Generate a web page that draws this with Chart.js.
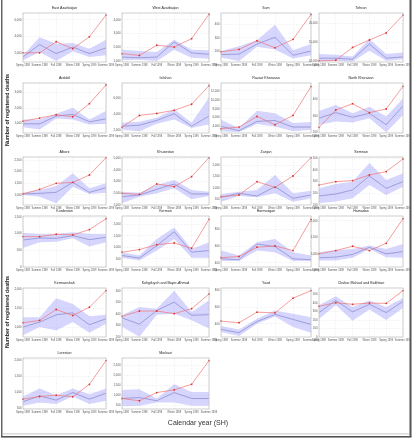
<!DOCTYPE html>
<html>
<head>
<meta charset="utf-8">
<script src="https://cdn.jsdelivr.net/npm/chart.js@4.4.0/dist/chart.umd.min.js"></script>
<style>
html, body { margin: 0; padding: 0; background: #fff; }
#wrap { position: relative; width: 415px; height: 440px; overflow: hidden; }
#wrap canvas { position: absolute; }
</style>
</head>
<body>
<div id="wrap"><canvas id="bg" width="415" height="440" style="left:0;top:0"></canvas></div>
<script>
const seasons = ['Spring 1398', 'Summer 1398', 'Fall 1398', 'Winter 1398', 'Spring 1399', 'Summer 1399'];

const provinces = [
    'East Azarbaijan', 'West Azarbaijan', 'Ilam', 'Tehran',
    'Ardabil', 'Isfahan', 'Razavi Khorasan', 'North Khorasan',
    'Alborz', 'Khuzestan', 'Zanjan', 'Semnan',
    'Kurdestan', 'Kerman', 'Hormozgan', 'Hamadan',
    'Kermanshah', 'Kohgiluyeh and Boyer-Ahmad', 'Yazd', 'Chahar Mahaal and Bakhtiari',
    'Lorestan', 'Markazi'
];

// registered deaths (red)
const observed = [
    [2000, 2000, 3350, 2500, 3950, 6600],
    [1540, 1410, 2150, 2020, 2630, 4410],
    [199, 216, 279, 228, 289, 470],
    [10000, 10180, 13570, 15540, 17410, 22140],
    [1150, 1350, 1565, 1435, 2280, 3480],
    [2380, 3850, 4100, 4480, 5235, 7550],
    [3510, 3880, 6270, 4400, 6490, 12985],
    [230, 335, 373, 319, 341, 478],
    [1043, 1243, 1500, 1543, 1857, 2600],
    [2000, 1914, 2800, 2571, 3429, 5057],
    [618, 691, 1279, 1029, 1529, 2338],
    [271, 300, 309, 357, 386, 494],
    [911, 911, 982, 962, 1123, 1447],
    [786, 900, 1114, 1186, 957, 2214],
    [461, 476, 587, 602, 547, 921],
    [1000, 1100, 1230, 1100, 1320, 2070],
    [1113, 1174, 1461, 1304, 1522, 1957],
    [380, 426, 426, 403, 446, 574],
    [433, 414, 539, 531, 704, 794],
    [362, 404, 385, 400, 396, 546],
    [786, 867, 908, 857, 1245, 1980],
    [833, 717, 1133, 1267, 1550, 2750]
];

// expected deaths (blue line)
const predicted = [
    [1500, 3000, 1900, 2700, 1900, 2600],
    [1290, 1240, 1290, 2390, 1590, 1490],
    [179, 182, 255, 304, 174, 204],
    [10710, 10710, 10450, 14460, 10710, 11070],
    [980, 980, 1480, 1590, 1110, 1300],
    [2500, 2630, 3220, 4060, 2500, 3765],
    [4030, 3060, 5150, 5370, 3880, 3880],
    [285, 319, 291, 315, 246, 359],
    [1043, 1071, 1114, 1543, 1114, 1314],
    [1714, 1857, 2343, 2800, 1943, 1943],
    [588, 765, 647, 1059, 544, 691],
    [177, 194, 229, 349, 243, 300],
    [810, 870, 860, 941, 820, 891],
    [643, 529, 1071, 1671, 786, 857],
    [449, 437, 626, 594, 449, 437],
    [880, 900, 980, 1200, 1000, 1070],
    [1000, 1130, 1322, 1374, 1061, 1217],
    [366, 311, 431, 503, 389, 394],
    [335, 296, 429, 512, 453, 394],
    [288, 431, 296, 385, 288, 419],
    [704, 888, 755, 990, 786, 969],
    [833, 883, 717, 1133, 833, 833]
];

const lowerBound = [
    [1100, 2100, 1000, 2200, 1500, 1700],
    [1050, 1100, 1000, 1830, 1240, 1170],
    [157, 133, 235, 216, 150, 174],
    [9820, 10000, 9820, 12680, 10000, 10450],
    [760, 610, 1330, 1260, 935, 980],
    [2085, 1875, 2800, 3345, 2295, 2715],
    [2910, 2760, 4550, 4030, 2910, 3280],
    [246, 265, 260, 285, 200, 305],
    [1000, 929, 643, 1357, 1043, 1100],
    [1143, 1714, 2000, 2429, 1486, 1771],
    [397, 647, 588, 765, 397, 544],
    [114, 129, 157, 271, 186, 257],
    [567, 739, 759, 860, 617, 739],
    [543, 429, 857, 1357, 543, 543],
    [421, 421, 547, 528, 421, 421],
    [800, 800, 880, 1150, 900, 880],
    [783, 1000, 913, 1130, 852, 1087],
    [289, 203, 394, 403, 346, 274],
    [304, 257, 402, 488, 363, 296],
    [212, 373, 192, 323, 200, 342],
    [582, 684, 633, 867, 633, 735],
    [433, 467, 633, 633, 467, 467]
];

const upperBound = [
    [1700, 3900, 3100, 3200, 2500, 3600],
    [1830, 1730, 1660, 2560, 1830, 1780],
    [205, 240, 282, 394, 210, 255],
    [11790, 11610, 11160, 15800, 11790, 12230],
    [1260, 1260, 1630, 2020, 1260, 1800],
    [2920, 3050, 3555, 4605, 2920, 6075],
    [5520, 3660, 7540, 7015, 4780, 5000],
    [329, 365, 315, 355, 295, 404],
    [1100, 1214, 1386, 1929, 1286, 1500],
    [2143, 2057, 2714, 3143, 2286, 2143],
    [735, 838, 912, 1574, 765, 882],
    [243, 280, 300, 460, 314, 371],
    [1022, 992, 992, 1043, 992, 992],
    [786, 643, 1357, 1857, 929, 1214],
    [547, 488, 646, 685, 528, 488],
    [1050, 1120, 1150, 1250, 1150, 1300],
    [1261, 1261, 1757, 1609, 1287, 1322],
    [389, 460, 446, 603, 417, 517],
    [375, 335, 461, 559, 520, 480],
    [373, 481, 354, 431, 354, 458],
    [867, 1112, 908, 1112, 939, 1112],
    [1267, 1300, 833, 1550, 1167, 1167]
];

const yMin = [880, 930, 125, 9700, 390, 1660, 2540, 196, 571, 1000, 250, 100,
              0, 143, 350, 600, 739, 200, 245, 0, 480, 300];
const yMax = [6850, 4500, 480, 22700, 3610, 7880, 13800, 498, 2629, 5114, 2368, 511,
              1530, 2357, 961, 2150, 2026, 626, 825, 577, 2061, 2883];

// panel grid (plot area edges)
const colLeft = [23, 122, 221, 319];
const colRight = [106, 209, 311, 403];
const rowTop = [13, 83, 157, 216, 288, 358];
const rowBottom = [62, 133, 205, 267, 337, 409];

// frame + axis titles
const bg = document.getElementById('bg').getContext('2d');
bg.fillStyle = '#666';
bg.fillRect(1, 0, 1.5, 437);
bg.fillStyle = '#555';
bg.fillRect(409.5, 0, 2, 437);
bg.fillRect(1, 436, 410.5, 1.6);
bg.fillStyle = '#bbb';
bg.fillRect(3, 433.5, 406, 0.8);

bg.fillStyle = '#1a1a1a';
bg.font = 'bold 5.3px "Liberation Sans", Arial, sans-serif';
bg.textAlign = 'center';
bg.textBaseline = 'middle';
[110, 312].forEach(cy => {
    bg.save();
    bg.translate(7.5, cy);
    bg.rotate(-Math.PI / 2);
    bg.fillText('Number of registered deaths', 0, 0);
    bg.restore();
});
bg.font = '7px "Liberation Sans", Arial, sans-serif';
bg.fillStyle = '#333';
bg.fillText('Calendar year (SH)', 198, 423);

const panelFrame = {
    id: 'panelFrame',
    afterDraw(chart, args, opts) {
        const { ctx, chartArea: a } = chart;
        ctx.save();
        ctx.strokeStyle = '#c4c4c4';
        ctx.lineWidth = 0.8;
        ctx.strokeRect(a.left, a.top, a.right - a.left, a.bottom - a.top);
        ctx.fillStyle = '#222';
        ctx.font = '3.6px "Liberation Sans", Arial, sans-serif';
        ctx.textAlign = 'center';
        ctx.textBaseline = 'alphabetic';
        ctx.fillText(opts.text, (a.left + a.right) / 2, a.top - 4.5);
        ctx.restore();
    }
};

const padL = 14, padT = 9, padR = 10, padB = 6;
const wrap = document.getElementById('wrap');

provinces.forEach((name, i) => {
    const col = i % 4, row = Math.floor(i / 4);
    const L = colLeft[col], R = colRight[col], T = rowTop[row], B = rowBottom[row];
    const cv = document.createElement('canvas');
    cv.width = R - L + padL + padR;
    cv.height = B - T + padT + padB;
    cv.style.left = (L - padL) + 'px';
    cv.style.top = (T - padT) + 'px';
    wrap.appendChild(cv);

    new Chart(cv.getContext('2d'), {
        type: 'line',
        data: {
            labels: seasons,
            datasets: [{
                data: lowerBound[i],
                borderWidth: 0,
                pointRadius: 0,
                fill: false,
                order: 3
            }, {
                data: upperBound[i],
                borderWidth: 0,
                pointRadius: 0,
                fill: '-1',
                backgroundColor: 'rgba(125,125,250,0.32)',
                order: 3
            }, {
                data: predicted[i],
                borderColor: 'rgba(125,125,200,0.9)',
                borderWidth: 0.7,
                pointRadius: 0,
                order: 1
            }, {
                data: observed[i],
                borderColor: '#ef7474',
                borderWidth: 0.7,
                pointRadius: 0.9,
                pointBorderWidth: 0,
                pointBackgroundColor: '#e03030',
                order: 0
            }]
        },
        options: {
            responsive: false,
            animation: false,
            events: [],
            layout: { padding: { left: 0, right: padR, top: padT, bottom: 0 } },
            plugins: {
                legend: { display: false },
                tooltip: { enabled: false },
                panelFrame: { text: name }
            },
            scales: {
                x: {
                    offset: false,
                    grid: { color: '#dcdcdc', lineWidth: 0.5, drawTicks: false },
                    border: { display: false, dash: [1, 1.5] },
                    ticks: {
                        font: { size: 2.6, family: 'Liberation Sans' },
                        color: '#555',
                        maxRotation: 0,
                        autoSkip: false,
                        padding: 1.5
                    },
                    afterFit(s) { s.height = padB; s.paddingLeft = 0; s.paddingRight = 0; }
                },
                y: {
                    min: yMin[i],
                    max: yMax[i],
                    grid: { color: '#dcdcdc', lineWidth: 0.5, drawTicks: false },
                    border: { display: false, dash: [1, 1.5] },
                    ticks: {
                        font: { size: 2.8, family: 'Liberation Sans' },
                        color: '#555',
                        padding: 1.5,
                        maxTicksLimit: 7,
                        includeBounds: false
                    },
                    afterFit(s) { s.width = padL; s.paddingTop = 0; s.paddingBottom = 0; }
                }
            }
        },
        plugins: [panelFrame]
    });
});
</script>
</body>
</html>
